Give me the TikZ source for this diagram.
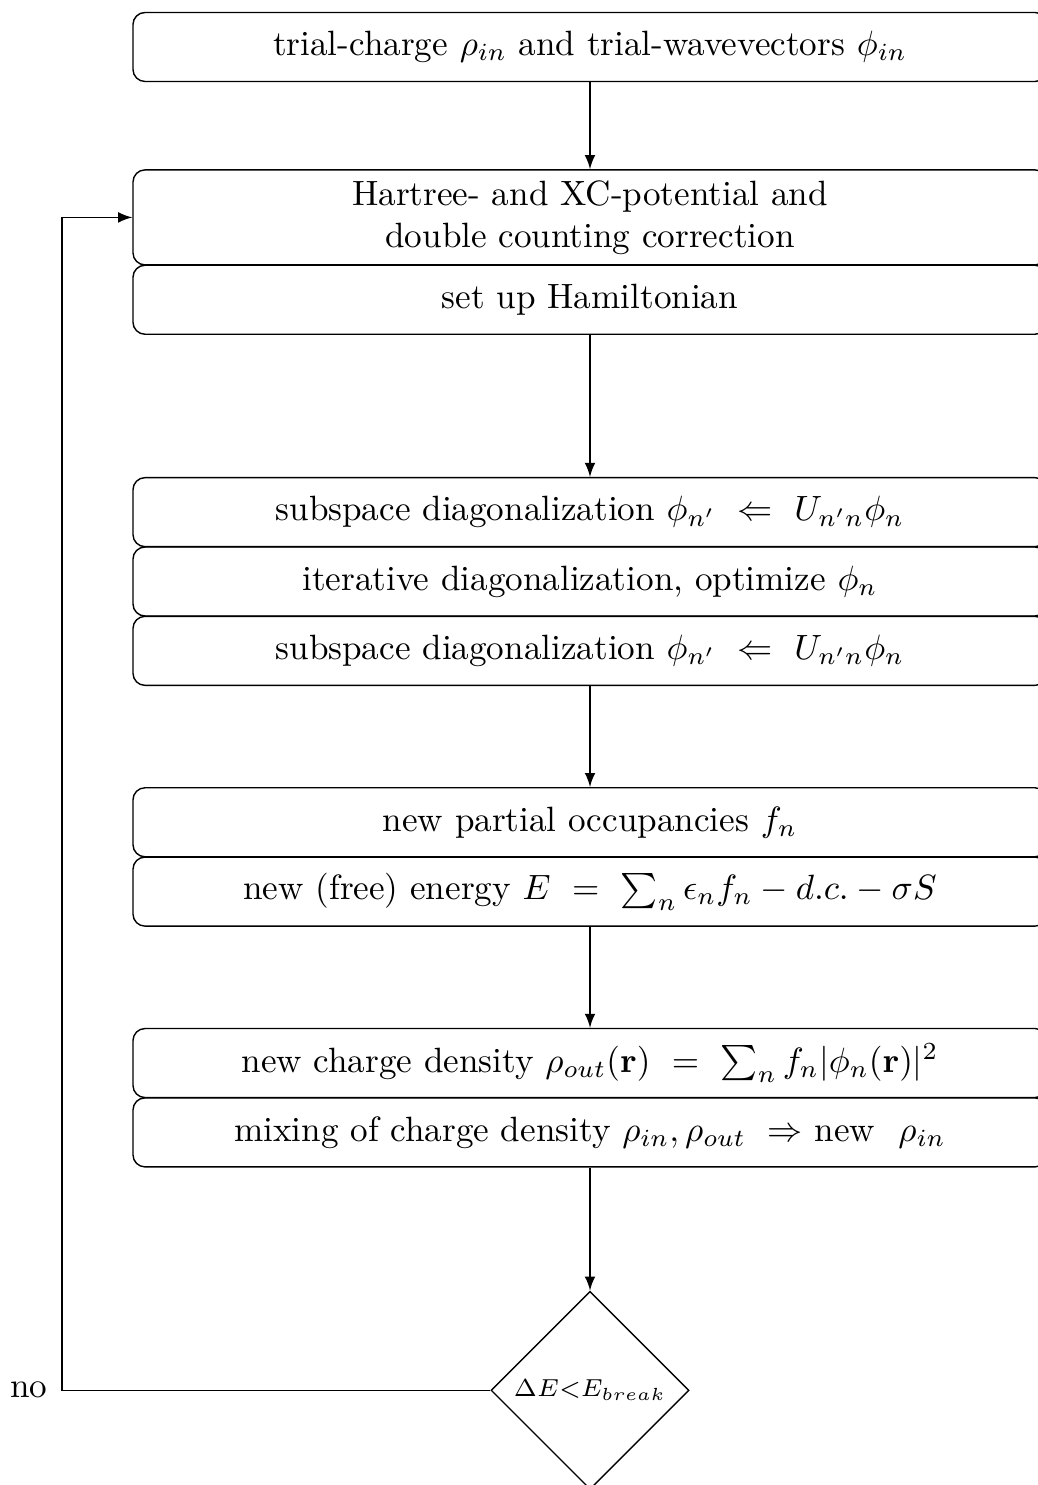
\documentclass[tikz,border=0pt]{standalone}
\usetikzlibrary{positioning,shapes.geometric}
\begin{document}
\begin{tikzpicture}[>=latex, thin,
		stepbox/.style={draw, rounded corners=1.2mm, minimum width=9.14cm, minimum height=0.69cm, align=center, inner sep=2pt},
		decision/.style={draw, diamond, aspect=1, minimum size=1.98cm, inner sep=0pt, font=\scriptsize}]
				% 1. fixed frame of the picture
				\useasboundingbox (0,0) rectangle (10.37,-14.85);
				
				% 2. start and self-consistency cycle
				\node[stepbox] (init) at (5.90,-0.47) {trial-charge $\rho_{in}$ and trial-wavevectors $\phi_{in}$};
				\node[stepbox, minimum height=0.95cm, below=0.87cm of init] (hxc) {Hartree- and XC-potential and\\double counting correction};
				\node[stepbox, below=-0.3pt of hxc] (ham) {set up Hamiltonian};
				
				% diagonalization block
				\node[stepbox, below=1.42cm of ham] (sub1) {subspace diagonalization $\phi_{n'}\ \Leftarrow\ U_{n'n}\phi_n$};
				\node[stepbox, below=-0.3pt of sub1] (iter) {iterative diagonalization, optimize $\phi_n$};
				\node[stepbox, below=-0.3pt of iter] (sub2) {subspace diagonalization $\phi_{n'}\ \Leftarrow\ U_{n'n}\phi_n$};
				
				% occupancies and energy
				\node[stepbox, below=1.01cm of sub2] (occ) {new partial occupancies $f_n$};
				\node[stepbox, below=-0.3pt of occ] (ener) {new (free) energy $E\ =\ \sum_n\epsilon_n f_n - d.c. - \sigma S$};
				
				% charge density and mixing
				\node[stepbox, below=1.01cm of ener] (rho) {new charge density $\rho_{out}(\mathbf{r})\ =\ \sum_n f_n|\phi_n(\mathbf{r})|^2$};
				\node[stepbox, below=-0.3pt of rho] (mix) {mixing of charge density $\rho_{in},\rho_{out}\ \Rightarrow$ new\ \ $\rho_{in}$};
				
				% 3. convergence test
				\node[decision, below=1.23cm of mix] (conv) {$\Delta E{<}E_{break}$};
				
				% 4. connectors
				\draw[->] (init) -- (hxc);
				\draw[->] (ham) -- (sub1);
				\draw[->] (sub2) -- (occ);
				\draw[->] (ener) -- (rho);
				\draw[->] (mix) -- (conv);
				
				% back to the potential (fill the loop)
				\coordinate (back) at (0.62,0);
				\draw[->] (conv.west) -- (conv.west -| back) coordinate (corner) |- (hxc.west);
				\node[left, inner sep=4pt] (nolabel) at (corner) {no};
			\end{tikzpicture}
\end{document}
